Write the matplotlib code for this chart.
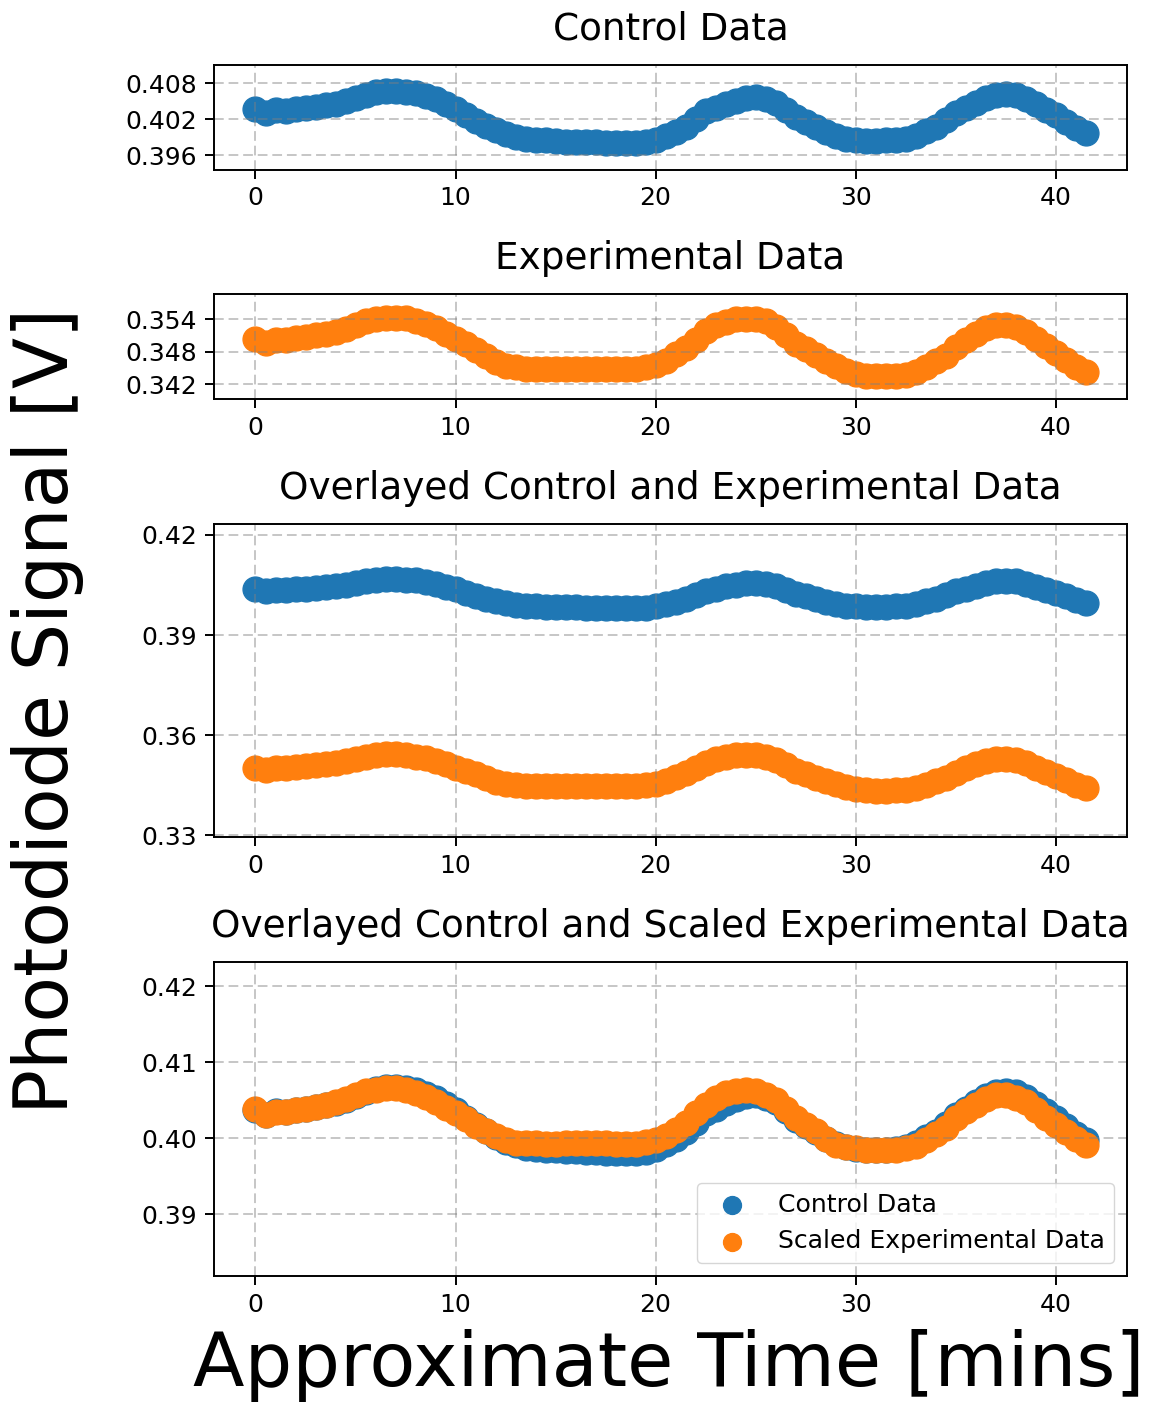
import numpy as np
import matplotlib
matplotlib.use("Agg")
import matplotlib.pyplot as plt

# photodiode readings, one every half minute
time_mins = np.arange(0, 42, 0.5)

control_v = [
    0.4037, 0.4031, 0.4036, 0.4034, 0.4037, 0.4039, 0.4041, 0.4044,
    0.4046, 0.4050, 0.4056, 0.4061, 0.4065, 0.4067, 0.4067, 0.4066,
    0.4064, 0.4058, 0.4053, 0.4045, 0.4037, 0.4027, 0.4017, 0.4009,
    0.4002, 0.3995, 0.3991, 0.3987, 0.3986, 0.3985, 0.3984, 0.3983,
    0.3983, 0.3982, 0.3982, 0.3981, 0.3981, 0.3981, 0.3981, 0.3982,
    0.3986, 0.3992, 0.3999, 0.4008, 0.4020, 0.4033, 0.4039, 0.4046,
    0.4051, 0.4055, 0.4057, 0.4053, 0.4047, 0.4036, 0.4024, 0.4016,
    0.4008, 0.3999, 0.3992, 0.3988, 0.3986, 0.3984, 0.3984, 0.3985,
    0.3986, 0.3988, 0.3993, 0.4001, 0.4008, 0.4019, 0.4031, 0.4039,
    0.4047, 0.4056, 0.4061, 0.4062, 0.4061, 0.4054, 0.4045, 0.4036,
    0.4027, 0.4016, 0.4006, 0.3997,
]

experimental_v = [
    0.3503, 0.3496, 0.3501, 0.3502, 0.3506, 0.3508, 0.3510, 0.3513,
    0.3517, 0.3522, 0.3530, 0.3536, 0.3540, 0.3543, 0.3543, 0.3542,
    0.3536, 0.3531, 0.3524, 0.3513, 0.3503, 0.3494, 0.3483, 0.3472,
    0.3461, 0.3454, 0.3451, 0.3448, 0.3447, 0.3447, 0.3447, 0.3448,
    0.3448, 0.3448, 0.3448, 0.3447, 0.3447, 0.3448, 0.3448, 0.3451,
    0.3455, 0.3463, 0.3475, 0.3487, 0.3502, 0.3518, 0.3530, 0.3535,
    0.3540, 0.3541, 0.3540, 0.3536, 0.3525, 0.3510, 0.3494, 0.3484,
    0.3473, 0.3462, 0.3453, 0.3444, 0.3438, 0.3435, 0.3434, 0.3434,
    0.3435, 0.3437, 0.3442, 0.3451, 0.3462, 0.3472, 0.3488, 0.3502,
    0.3513, 0.3524, 0.3530, 0.3530, 0.3525, 0.3516, 0.3503, 0.3490,
    0.3478, 0.3465, 0.3451, 0.3442,
]

scaled_experimental_v = [
    0.4038, 0.4030, 0.4034, 0.4034, 0.4037, 0.4039, 0.4041, 0.4044,
    0.4047, 0.4051, 0.4057, 0.4062, 0.4064, 0.4066, 0.4066, 0.4064,
    0.4060, 0.4054, 0.4048, 0.4040, 0.4033, 0.4025, 0.4016, 0.4009,
    0.4003, 0.3998, 0.3994, 0.3993, 0.3993, 0.3992, 0.3992, 0.3993,
    0.3993, 0.3993, 0.3994, 0.3993, 0.3992, 0.3992, 0.3992, 0.3995,
    0.3998, 0.4003, 0.4011, 0.4020, 0.4033, 0.4044, 0.4053, 0.4059,
    0.4062, 0.4064, 0.4062, 0.4057, 0.4050, 0.4039, 0.4027, 0.4017,
    0.4009, 0.3999, 0.3991, 0.3988, 0.3987, 0.3985, 0.3985, 0.3985,
    0.3985, 0.3987, 0.3990, 0.3997, 0.4005, 0.4014, 0.4026, 0.4036,
    0.4044, 0.4051, 0.4057, 0.4057, 0.4053, 0.4047, 0.4037, 0.4027,
    0.4017, 0.4008, 0.3999, 0.3991,
]

plt.rcParams.update({
    "font.family": "DejaVu Sans",
    "xtick.labelsize": 18,
    "ytick.labelsize": 18,
    "xtick.major.size": 6.2,
    "ytick.major.size": 6.2,
    "xtick.major.pad": 6.0,
    "ytick.major.pad": 6.0,
    "xtick.major.width": 1.4,
    "ytick.major.width": 1.4,
    "axes.linewidth": 1.4,
    "legend.fontsize": 18.1,
})

MARKER_SIZE = 320


def style_axis(ax, title, ylim, yticks):
    ax.set_title(title, fontsize=26.9, pad=18)
    ax.set_ylim(*ylim)
    ax.set_yticks(yticks)
    ax.grid(True, linestyle=(0, (5, 2.5)), linewidth=1.4, color="gray", alpha=0.45)


fig, axes = plt.subplots(
    4, 1, figsize=(11.53, 14.03), dpi=100,
    gridspec_kw={"height_ratios": [1, 1, 3, 3], "left": 0.1856, "right": 0.9775,
                 "top": 0.9537, "bottom": 0.0905, "hspace": 0.597},
)
ax1, ax2, ax3, ax4 = axes

ax1.scatter(time_mins, control_v, s=MARKER_SIZE, color="C0")
style_axis(ax1, "Control Data", (0.39367, 0.411), [0.396, 0.402, 0.408])

ax2.scatter(time_mins, experimental_v, s=MARKER_SIZE, color="C1")
style_axis(ax2, "Experimental Data", (0.33923, 0.35862), [0.342, 0.348, 0.354])

ax3.scatter(time_mins, control_v, s=MARKER_SIZE, color="C0")
ax3.scatter(time_mins, experimental_v, s=MARKER_SIZE, color="C1")
style_axis(ax3, "Overlayed Control and Experimental Data", (0.3294, 0.4233),
           [0.33, 0.36, 0.39, 0.42])

ax4.scatter(time_mins, control_v, s=MARKER_SIZE, color="C0", label="Control Data")
ax4.scatter(time_mins, scaled_experimental_v, s=MARKER_SIZE, color="C1",
            label="Scaled Experimental Data")
style_axis(ax4, "Overlayed Control and Scaled Experimental Data", (0.38184, 0.42316),
           [0.39, 0.40, 0.41, 0.42])
ax4.legend(loc="lower right", markerscale=0.72)

fig.text(0.5802, 0.027, "Approximate Time [mins]", fontsize=54.2, ha="center", va="center")
fig.text(0.0416, 0.4932, "Photodiode Signal [V]", fontsize=53.7, rotation=90,
         ha="center", va="center")

fig.savefig("out.png", dpi=100)
plt.close(fig)
